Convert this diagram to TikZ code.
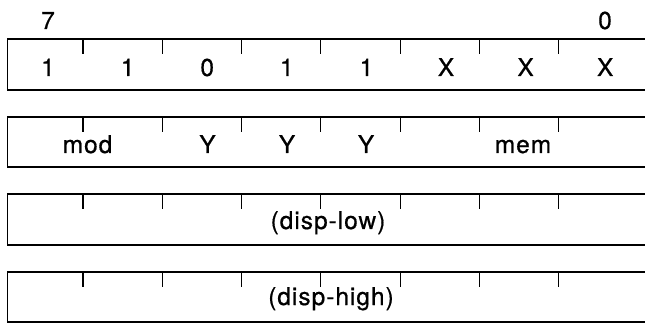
\documentclass[tikz,border=0pt]{standalone}
\usepackage{fontspec}
\setmainfont{TeX Gyre Heros}[LetterSpace=4,FakeBold=0.6]
\begin{document}
\begin{tikzpicture}[x=1pt,y=-1pt,
  boxline/.style={line width=1.5pt},
  tickline/.style={line width=1.1pt},
  lab/.style={font=\fontsize{24.5}{27}\selectfont, anchor=base, inner sep=0pt}]
\useasboundingbox (0,0) rectangle (645,323);
% rows: top, bottom
\foreach \t/\b [count=\r] in {39/90, 117/167, 194/245, 272/322}{
  \draw[boxline] (645,\t) -- (7.5,\t) -- (7.5,\b) -- (645,\b);
  \foreach \k in {0,...,6}{
    \draw[tickline] ({83+79.3*\k},\t) -- ++(0,15);
  }
}
% bit numbers
\node[lab] (b7) at (48,29) {7};
\node[lab] (b0) at (605,29) {0};
% row 1
\foreach \v [count=\i from 0] in {1,1,0,1,1,X,X,X}{
  \node[lab] (r1c\i) at ({48+79.6*\i},76) {\v};
}
% row 2
\node[lab] (mod) at (87.5,153) {mod};
\node[lab] (y1) at (207.5,153) {Y};
\node[lab] (y2) at (287,153) {Y};
\node[lab] (y3) at (366,153) {Y};
\node[lab] (mem) at (523,153) {mem};
% rows 3,4
\node[lab] (dlow) at (328,229) {(disp-low)};
\node[lab] (dhigh) at (331,305) {(disp-high)};
\end{tikzpicture}
\end{document}
